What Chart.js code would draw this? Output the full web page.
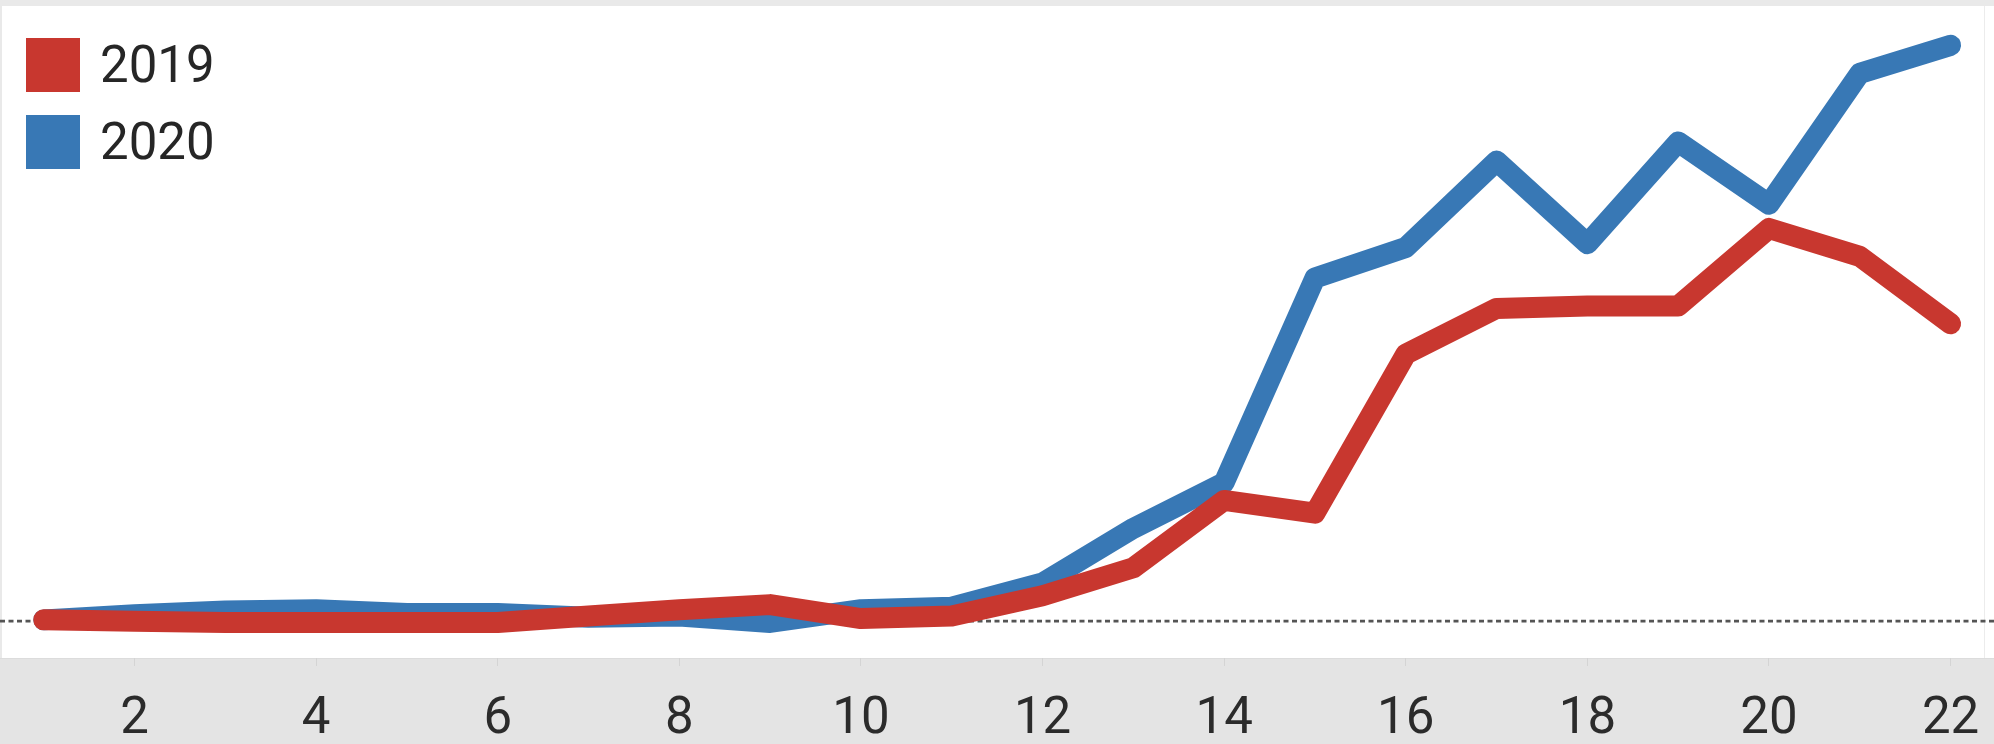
<!DOCTYPE html>
<html>
<head>
<meta charset="utf-8">
<script src="https://cdn.jsdelivr.net/npm/chart.js@4/dist/chart.umd.min.js"></script>
<style>
  html, body { margin: 0; padding: 0; background: #ffffff; }
  #wrap { position: relative; width: 1994px; height: 744px; }
  canvas { display: block; }
  #legend { position: absolute; left: 26px; top: 38px; font-family: Roboto, sans-serif; font-weight: 400; font-size: 51px; color: #262626; }
  .row { display: flex; align-items: center; height: 54px; margin-bottom: 23px; }
  .sw { width: 54px; height: 54px; margin-right: 20px; }
  .lbl { line-height: 54px; }
</style>
</head>
<body>
<div id="wrap">
  <canvas id="c" width="1994" height="744"></canvas>
  <div id="legend"></div>
</div>
<script>
// Data (arbitrary units above the baseline)
const xValues = [1, 2, 3, 4, 5, 6, 7, 8, 9, 10, 11, 12, 13, 14, 15, 16, 17, 18, 19, 20, 21, 22];
const series2019 = [1, 0, -1, -1, -1, -1, 4, 9, 13, 2, 4, 20, 42, 95, 85, 210, 246, 248, 248, 309, 287, 234];
const series2020 = [1, 5, 8, 9, 6, 6, 3, 4, -1, 9, 11, 30, 73, 109, 270, 294, 362, 297, 377, 328, 431, 453];
const xTickLabels = [2, 4, 6, 8, 10, 12, 14, 16, 18, 20, 22];
const seriesNames = ['2019', '2020'];

const RED = '#c8372f';
const BLUE = '#3878b5';

const toPoints = (arr) => arr.map((v, i) => ({ x: xValues[i], y: v }));

const framePlugin = {
  id: 'frame',
  beforeDraw(chart) {
    const { ctx, chartArea, width, height } = chart;
    ctx.save();
    ctx.fillStyle = '#e9e9e9';
    ctx.fillRect(0, 0, width, height);
    ctx.fillStyle = '#ffffff';
    ctx.fillRect(chartArea.left, chartArea.top, width - chartArea.left, chartArea.bottom - chartArea.top);
    ctx.fillStyle = '#e4e4e4';
    ctx.fillRect(0, chartArea.bottom, width, height - chartArea.bottom);
    ctx.fillStyle = '#dcdcdc';
    ctx.fillRect(0, chartArea.bottom, width, 1);
    ctx.fillStyle = '#ececec';
    ctx.fillRect(chartArea.right - 2, chartArea.top, 1, chartArea.bottom - chartArea.top);
    ctx.restore();
  },
  beforeDatasetsDraw(chart) {
    const { ctx, chartArea, scales, width } = chart;
    const y0 = scales.y.getPixelForValue(0);
    ctx.save();
    ctx.strokeStyle = '#555555';
    ctx.lineWidth = 2.8;
    ctx.setLineDash([5, 3.5]);
    ctx.beginPath();
    ctx.moveTo(chartArea.left - 2, y0);
    ctx.lineTo(width, y0);
    ctx.stroke();
    ctx.restore();
  }
};

const chart = new Chart(document.getElementById('c'), {
  type: 'line',
  data: {
    datasets: [
      { label: seriesNames[0], data: toPoints(series2019), borderColor: RED, backgroundColor: RED,
        borderWidth: 21, pointRadius: 0, tension: 0, borderCapStyle: 'round', borderJoinStyle: 'round' },
      { label: seriesNames[1], data: toPoints(series2020), borderColor: BLUE, backgroundColor: BLUE,
        borderWidth: 21, pointRadius: 0, tension: 0, borderCapStyle: 'round', borderJoinStyle: 'round' }
    ]
  },
  options: {
    responsive: false,
    animation: false,
    layout: { padding: { left: 2, right: 8, top: 6, bottom: 0 } },
    scales: {
      x: {
        type: 'linear',
        min: 0.54,
        max: 22.39,
        afterBuildTicks: (s) => { s.ticks = xTickLabels.map(v => ({ value: v })); },
        afterFit: (s) => { s.height = 86; s.paddingLeft = 0; s.paddingRight = 0; },
        grid: { drawOnChartArea: false, drawTicks: true, tickLength: 8, color: '#d4d4d4', lineWidth: 1 },
        border: { display: false },
        ticks: { color: '#2b2b2b', padding: 24, maxRotation: 0, autoSkip: false,
                 font: { family: 'Roboto', size: 51, weight: '400', lineHeight: 1.2 } }
      },
      y: {
        min: -29,
        max: 484,
        display: false
      }
    },
    plugins: {
      legend: { display: false },
      tooltip: { enabled: false }
    }
  },
  plugins: [framePlugin]
});

// Legend built from the chart's datasets
const legendEl = document.getElementById('legend');
chart.data.datasets.forEach(d => {
  const row = document.createElement('div');
  row.className = 'row';
  const sw = document.createElement('div');
  sw.className = 'sw';
  sw.style.background = d.borderColor;
  const lbl = document.createElement('span');
  lbl.className = 'lbl';
  lbl.textContent = d.label;
  row.appendChild(sw);
  row.appendChild(lbl);
  legendEl.appendChild(row);
});
</script>
</body>
</html>
